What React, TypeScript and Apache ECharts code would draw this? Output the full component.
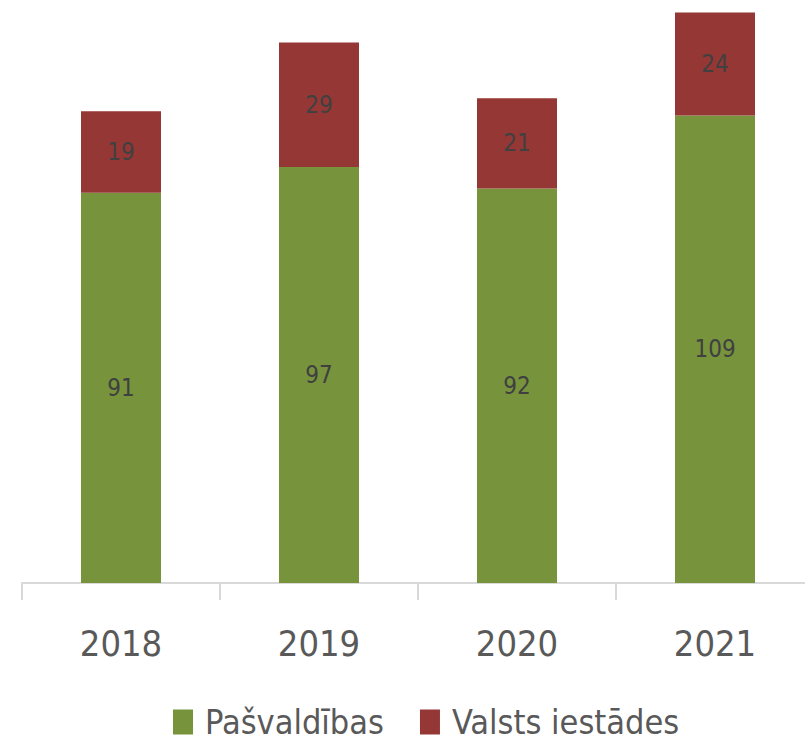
import React, { useEffect, useRef } from "react";
import * as echarts from "echarts";

const categories = ["2018", "2019", "2020", "2021"];
const pasvaldibas = [91, 97, 92, 109];
const valsts = [19, 29, 21, 24];
const seriesNames = ["Pašvaldības", "Valsts iestādes"];

const FONT = "'Liberation Sans Narrow', 'DejaVu Sans Condensed', 'Liberation Sans', sans-serif";

export default function App() {
  const ref = useRef<HTMLDivElement>(null);
  useEffect(() => {
    if (!ref.current) return;
    const chart = echarts.init(ref.current, undefined, { renderer: "svg" });
    chart.setOption({
      animation: false,
      textStyle: { fontFamily: FONT },
      grid: { left: 22, right: 0, top: 4, bottom: 161 },
      legend: {
        data: seriesNames,
        left: 173,
        top: 705,
        padding: 0,
        icon: "rect",
        itemWidth: 20,
        itemHeight: 25,
        itemGap: 36,
        textStyle: {
          fontFamily: FONT,
          fontSize: 34,
          lineHeight: 34,
          color: "#595959",
          padding: [0, 0, 0, 7],
        },
      },
      xAxis: {
        type: "category",
        data: categories,
        boundaryGap: true,
        axisLine: { lineStyle: { color: "#d9d9d9", width: 2 } },
        axisTick: { show: true, length: 17, lineStyle: { color: "#d9d9d9", width: 2 } },
        axisLabel: { fontFamily: FONT, fontSize: 36, lineHeight: 36, color: "#595959", margin: 42 },
      },
      yAxis: {
        type: "value",
        min: 0,
        max: 135,
        show: false,
        splitLine: { show: false },
      },
      series: [
        {
          name: seriesNames[0],
          type: "bar",
          stack: "total",
          data: pasvaldibas,
          barWidth: 80,
          itemStyle: { color: "#77933C" },
          label: { show: true, position: "inside", fontFamily: FONT, fontSize: 24, color: "#404040" },
        },
        {
          name: seriesNames[1],
          type: "bar",
          stack: "total",
          data: valsts,
          barWidth: 80,
          itemStyle: { color: "#953735" },
          label: { show: true, position: "inside", fontFamily: FONT, fontSize: 24, color: "#404040" },
        },
      ],
    });
    return () => chart.dispose();
  }, []);
  return (
    <div
      ref={ref}
      style={{ position: "fixed", left: 0, top: 0, width: 814, height: 744, background: "#fff" }}
    />
  );
}
